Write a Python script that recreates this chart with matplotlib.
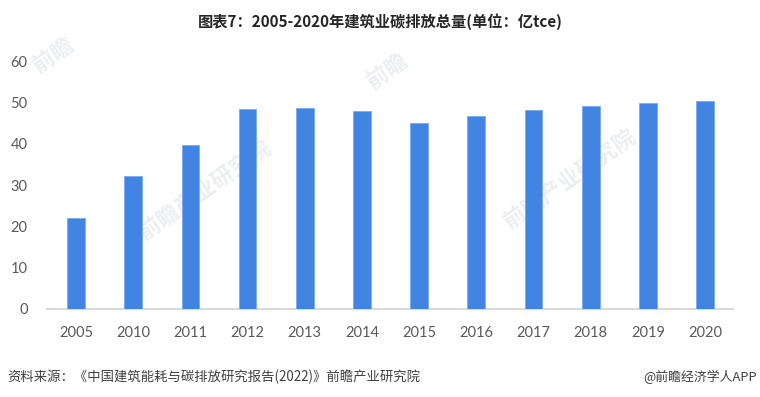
import matplotlib.pyplot as plt

plt.rcParams['font.family'] = ['Lato', 'Noto Sans CJK SC', 'DejaVu Sans']

# data
years = ['2005', '2010', '2011', '2012', '2013', '2014',
         '2015', '2016', '2017', '2018', '2019', '2020']
emissions = [22.1, 32.1, 39.7, 48.3, 48.7, 47.8,
             45.0, 46.6, 48.1, 49.0, 49.8, 50.4]
yticks = [0, 10, 20, 30, 40, 50, 60]

title = '图表7：2005-2020年建筑业碳排放总量(单位：亿tce)'
source = '资料来源：《中国建筑能耗与碳排放研究报告(2022)》前瞻产业研究院'
credit = '@前瞻经济学人APP'

fig = plt.figure(figsize=(7.6, 3.97), dpi=100)
ax = fig.add_axes([0.0618, 0.2217, 0.9027, 0.6246])

x = range(len(years))
ax.bar(x, emissions, width=0.31, color='#4184e2', edgecolor='#7aaaf0',
       linewidth=0.6, zorder=3)

ax.set_xlim(-0.51, 11.49)
ax.set_ylim(0, 60)
ax.set_xticks(list(x))
ax.set_xticklabels(years)
ax.set_yticks(yticks)
ax.tick_params(axis='both', length=0, colors='#595959', labelsize=10.5)
ax.tick_params(axis='x', pad=12)
ax.tick_params(axis='y', pad=14)

for side in ['top', 'right', 'left']:
    ax.spines[side].set_visible(False)
ax.spines['bottom'].set_color('#d9d9d9')
ax.spines['bottom'].set_linewidth(1.5)

# faint watermarks behind the bars
wm = dict(color='#eceef2', fontsize=16, rotation=35, ha='center', va='center',
          family=['Noto Sans CJK SC'], fontweight='bold', zorder=1,
          transform=fig.transFigure, clip_on=False)
ax.text(0.27, 0.52, '前瞻产业研究院', **wm)
ax.text(0.75, 0.55, '前瞻产业研究院', **wm)
ax.text(0.07, 0.86, '前瞻', **wm)
ax.text(0.51, 0.82, '前瞻', **wm)

fig.text(0.5, 0.945, title, ha='center', va='center', fontsize=11,
         fontweight='bold', color='#262626',
         family=['Noto Sans CJK SC', 'DejaVu Sans'])
fig.text(0.01, 0.05, source, ha='left', va='center', fontsize=9.6,
         color='#404040', family=['Noto Sans CJK SC', 'DejaVu Sans'])
fig.text(0.996, 0.05, credit, ha='right', va='center', fontsize=9.3,
         color='#404040', family=['Noto Sans CJK SC', 'DejaVu Sans'])

fig.savefig('out.png', dpi=100, facecolor='white')
